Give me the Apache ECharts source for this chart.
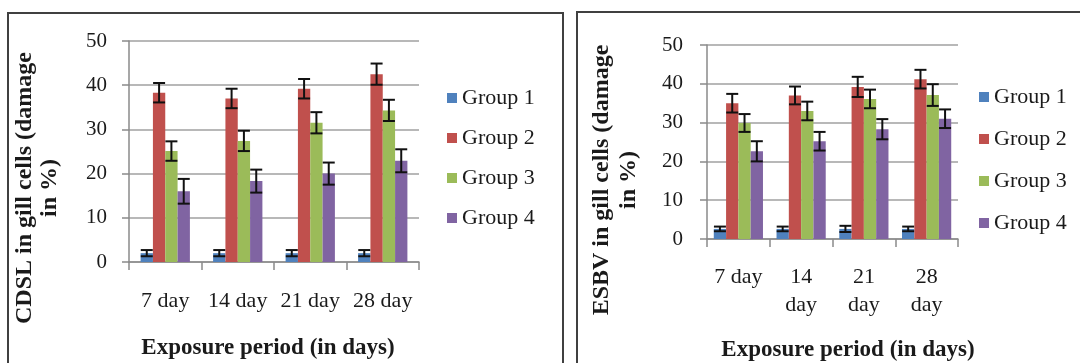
<!DOCTYPE html>
<html><head><meta charset="utf-8">
<script src="https://cdn.jsdelivr.net/npm/echarts@6/dist/echarts.min.js"></script>
<style>html,body{margin:0;padding:0;background:#fff}#c{width:1080px;height:363px}</style>
</head><body><div id="c"></div>
<script>
const groups = ['Group 1', 'Group 2', 'Group 3', 'Group 4'];
const leftCategories = ['7 day', '14 day', '21 day', '28 day'];
const rightCategories = ['7 day', '14\nday', '21\nday', '28\nday'];
const leftYTitle = 'CDSL in gill cells (damage\nin %)';
const rightYTitle = 'ESBV in gill cells (damage\nin %)';
const xTitle = 'Exposure period (in days)';

// CDSL (left panel)
const cdslG1 = [2.0, 2.0, 2.0, 2.0];
const cdslG2 = [38.3, 37.0, 39.2, 42.5];
const cdslG3 = [25.1, 27.4, 31.5, 34.3];
const cdslG4 = [16.0, 18.3, 20.0, 22.9];
const cdslErrG1 = [0.7, 0.7, 0.7, 0.7];
const cdslErrG2 = [2.2, 2.2, 2.2, 2.4];
const cdslErrG3 = [2.2, 2.3, 2.4, 2.4];
const cdslErrG4 = [2.8, 2.6, 2.5, 2.6];

// ESBV (right panel)
const esbvG1 = [2.6, 2.6, 2.6, 2.6];
const esbvG2 = [35.0, 37.0, 39.2, 41.2];
const esbvG3 = [29.9, 33.0, 36.1, 37.1];
const esbvG4 = [22.6, 25.2, 28.3, 31.0];
const esbvErrG1 = [0.6, 0.6, 0.8, 0.6];
const esbvErrG2 = [2.4, 2.3, 2.6, 2.4];
const esbvErrG3 = [2.3, 2.4, 2.4, 2.8];
const esbvErrG4 = [2.6, 2.4, 2.6, 2.4];

const colors = ['#4F81BD', '#C0504D', '#9BBB59', '#8064A2'];
const FONT = '"Liberation Serif", "Times New Roman", serif';
const TXT = '#1a1a1a';

const leftVals = [cdslG1, cdslG2, cdslG3, cdslG4];
const leftErrs = [cdslErrG1, cdslErrG2, cdslErrG3, cdslErrG4];
const rightVals = [esbvG1, esbvG2, esbvG3, esbvG4];
const rightErrs = [esbvErrG1, esbvErrG2, esbvErrG3, esbvErrG4];

function errData(vals, errs) {
  const out = [];
  vals.forEach((arr, g) => arr.forEach((v, c) => out.push([c, g, v, errs[g][c]])));
  return out;
}
function errRender(pct) {
  return function (params, api) {
    const cat = api.value(0), g = api.value(1), v = api.value(2), e = api.value(3);
    const band = api.size([1, 0])[0];
    const w = band * pct;
    const off = (g - 1.5) * w;
    const top = api.coord([cat, v + e]);
    const bot = api.coord([cat, v - e]);
    const x = top[0] + off;
    const cap = 6;
    const style = { stroke: '#111', lineWidth: 2 };
    return { type: 'group', children: [
      { type: 'line', shape: { x1: x, y1: top[1], x2: x, y2: bot[1] }, style },
      { type: 'line', shape: { x1: x - cap, y1: top[1], x2: x + cap, y2: top[1] }, style },
      { type: 'line', shape: { x1: x - cap, y1: bot[1], x2: x + cap, y2: bot[1] }, style }
    ]};
  };
}

const LP = 0.17, RP = 0.196;
const series = [];
groups.forEach((name, g) => {
  series.push({ name, type: 'bar', xAxisIndex: 0, yAxisIndex: 0, data: leftVals[g],
    barWidth: (LP * 100) + '%', barGap: '0%', itemStyle: { color: colors[g] } });
});
groups.forEach((name, g) => {
  series.push({ name, type: 'bar', xAxisIndex: 1, yAxisIndex: 1, data: rightVals[g],
    barWidth: (RP * 100) + '%', barGap: '0%', itemStyle: { color: colors[g] } });
});
series.push({ type: 'custom', xAxisIndex: 0, yAxisIndex: 0, z: 5,
  renderItem: errRender(LP), data: errData(leftVals, leftErrs), encode: { x: 0, y: 2 } });
series.push({ type: 'custom', xAxisIndex: 1, yAxisIndex: 1, z: 5,
  renderItem: errRender(RP), data: errData(rightVals, rightErrs), encode: { x: 0, y: 2 } });

function yAxis(gi, margin) {
  return { type: 'value', gridIndex: gi, min: 0, max: 50, interval: 10,
    axisLine: { show: true, lineStyle: { color: '#8a8a8a', width: 1.5 } },
    axisTick: { show: true, length: 7, lineStyle: { color: '#8a8a8a', width: 1.5 } },
    splitLine: { show: true, lineStyle: { color: '#a0a0a0', width: 1.5 } },
    axisLabel: { margin, color: TXT, fontFamily: FONT, fontSize: 21 } };
}
function xAxis(gi, cats, margin, lh) {
  return { type: 'category', gridIndex: gi, data: cats,
    axisLine: { show: true, lineStyle: { color: '#8a8a8a', width: 1.5 } },
    axisTick: { show: true, length: 8, alignWithLabel: false, lineStyle: { color: '#8a8a8a', width: 1.5 } },
    axisLabel: { margin, color: TXT, fontFamily: FONT, fontSize: 22, lineHeight: lh, interval: 0 } };
}
function legend(left, top, gap) {
  return { left, top, orient: 'vertical', itemWidth: 10, itemHeight: 10, itemGap: gap,
    itemTextGap: 5, icon: 'rect', data: groups, selectedMode: false,
    textStyle: { color: TXT, fontFamily: FONT, fontSize: 22 } };
}

const chart = echarts.init(document.getElementById('c'), null, { renderer: 'canvas' });
chart.setOption({
  animation: false,
  backgroundColor: '#fff',
  grid: [
    { left: 129, top: 41, width: 290, height: 221 },
    { left: 707, top: 45, width: 251, height: 194 }
  ],
  xAxis: [xAxis(0, leftCategories, 27, 25), xAxis(1, rightCategories, 24, 28)],
  yAxis: [yAxis(0, 22), yAxis(1, 24)],
  legend: [legend(442, 82, 18), legend(974, 81, 20)],
  series,
  graphic: [
    { type: 'rect', shape: { x: 8, y: 13, width: 555, height: 400 }, style: { fill: 'none', stroke: '#404040', lineWidth: 2 }, silent: true },
    { type: 'rect', shape: { x: 577, y: 12, width: 520, height: 400 }, style: { fill: 'none', stroke: '#404040', lineWidth: 2 }, silent: true },
    { type: 'text', x: 37, y: 188, rotation: Math.PI / 2,
      style: { text: leftYTitle, font: 'bold 24px ' + FONT, fill: TXT, textAlign: 'center', textVerticalAlign: 'middle', lineHeight: 25 } },
    { type: 'text', x: 615, y: 180, rotation: Math.PI / 2,
      style: { text: rightYTitle, font: 'bold 24px ' + FONT, fill: TXT, textAlign: 'center', textVerticalAlign: 'middle', lineHeight: 27 } },
    { type: 'text', x: 268, y: 348,
      style: { text: xTitle, font: 'bold 23px ' + FONT, fill: TXT, textAlign: 'center', textVerticalAlign: 'middle' } },
    { type: 'text', x: 848, y: 350,
      style: { text: xTitle, font: 'bold 23px ' + FONT, fill: TXT, textAlign: 'center', textVerticalAlign: 'middle' } }
  ]
});
</script></body></html>
